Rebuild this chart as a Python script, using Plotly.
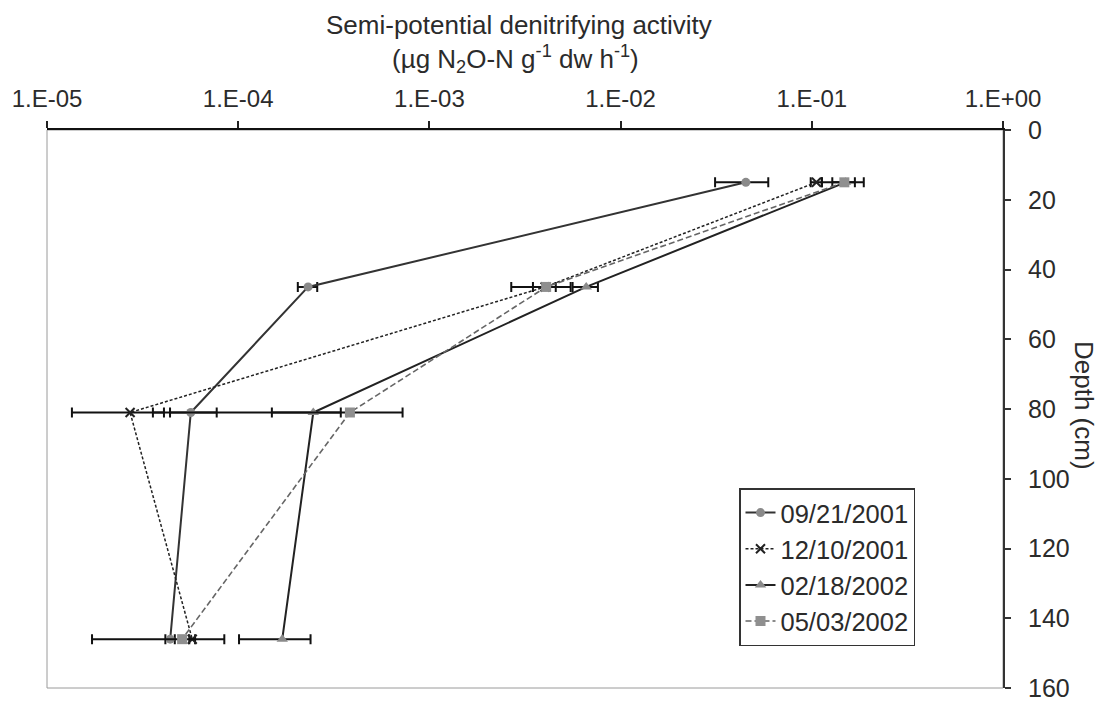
import plotly.graph_objects as go

# Sampling depths (cm)
depth = [15, 45, 81, 146]

# Semi-potential denitrifying activity (µg N2O-N g-1 dw h-1) and standard errors
act_0921 = [0.0452, 2.32e-4, 5.65e-5, 4.41e-5]
err_0921 = [0.014, 0.27e-4, 2.07e-5, 0.25e-5]

act_1210 = [0.1057, 4.03e-3, 2.72e-5, 5.75e-5]
err_1210 = [0.007, 0.55e-3, 1.37e-5, 0.2e-5]

act_0218 = [0.150, 6.61e-3, 2.47e-4, 1.70e-4]
err_0218 = [0.037, 1.0e-3, 0.97e-4, 0.69e-4]

act_0503 = [0.148, 4.08e-3, 3.84e-4, 5.09e-5]
err_0503 = [0.02, 1.4e-3, 3.4e-4, 3.37e-5]

dates = ["09/21/2001", "12/10/2001", "02/18/2002", "05/03/2002"]
x_ticks = [1e-5, 1e-4, 1e-3, 1e-2, 1e-1, 1]
x_ticklabels = ["1.E-05", "1.E-04", "1.E-03", "1.E-02", "1.E-01", "1.E+00"]
y_ticks = [0, 20, 40, 60, 80, 100, 120, 140, 160]

FONT = "Liberation Sans, Arial, sans-serif"
TXT = "#2b2b2b"

series = [
    (dates[0], act_0921, err_0921, dict(color="#333333", width=2, dash="solid"),
     dict(symbol="circle", size=9, color="#8a8a8a")),
    (dates[1], act_1210, err_1210, dict(color="#222222", width=1.5, dash="3px,2px"),
     dict(symbol="x-thin", size=9, color="#222222", line=dict(width=2, color="#222222"))),
    (dates[2], act_0218, err_0218, dict(color="#222222", width=2, dash="solid"),
     dict(symbol="triangle-up", size=10, color="#8a8a8a")),
    (dates[3], act_0503, err_0503, dict(color="#666666", width=1.6, dash="6px,3px"),
     dict(symbol="square", size=10, color="#8f8f8f")),
]

fig = go.Figure()
for i, (name, vals, errs, line, marker) in enumerate(series):
    fig.add_trace(go.Scatter(
        x=vals, y=depth, name=name, mode="lines+markers",
        line=line, marker=marker, legendgroup=f"g{i}",
        error_x=dict(type="data", array=errs, symmetric=True,
                     color="#111111", thickness=2, width=5),
    ))

L, R, T, B = 47, 1003, 130, 688
W, H = 1110, 702

fig.update_layout(
    width=W, height=H,
    margin=dict(l=L, r=W - R, t=T, b=H - B, pad=0, autoexpand=False),
    paper_bgcolor="white", plot_bgcolor="white",
    font=dict(family=FONT, size=24, color=TXT),
    showlegend=True,
    legend=dict(
        x=(739 - L) / (R - L), y=(B - 488) / (B - T), xanchor="left", yanchor="top",
        bgcolor="white", bordercolor="#333333", borderwidth=1.5,
        font=dict(family=FONT, size=25.5, color=TXT),
        tracegroupgap=0,
    ),
    xaxis=dict(
        type="log", range=[-5, 0], side="top", automargin=False,
        tickvals=x_ticks, ticktext=x_ticklabels,
        ticks="outside", ticklen=7, tickwidth=1.5, tickcolor="#222222",
        showline=True, linecolor="#111111", linewidth=2,
        showgrid=False, zeroline=False, ticklabelstandoff=4,
        tickfont=dict(family=FONT, size=24, color=TXT),
    ),
    yaxis=dict(
        range=[160, 0], side="right", tickvals=y_ticks, automargin=False,
        ticks="outside", ticklen=6, tickwidth=1.5, tickcolor="#333333",
        showline=True, linecolor="#333333", linewidth=2,
        showgrid=False, zeroline=False, ticklabelstandoff=12,
        tickfont=dict(family=FONT, size=25, color=TXT),
    ),
)

# Light frame around the plot area
fig.add_shape(type="rect", xref="paper", yref="paper", x0=0, y0=0, x1=1, y1=1,
              line=dict(color="#9a9a9a", width=1), layer="below")

# Axis titles
fig.add_annotation(xref="paper", yref="paper", x=(519 - L) / (R - L), y=(B - 25) / (B - T),
                   text="Semi-potential denitrifying activity", showarrow=False,
                   xanchor="center", yanchor="middle",
                   font=dict(family=FONT, size=26, color=TXT))
fig.add_annotation(xref="paper", yref="paper", x=(515 - L) / (R - L), y=(B - 59) / (B - T),
                   text="(µg N<sub>2</sub>O-N g<sup>-1</sup> dw h<sup>-1</sup>)",
                   showarrow=False, xanchor="center", yanchor="middle",
                   font=dict(family=FONT, size=26, color=TXT))
fig.add_annotation(xref="paper", yref="paper", x=(1084 - L) / (R - L),
                   y=(B - 405) / (B - T), text="Depth (cm)", textangle=90,
                   showarrow=False, xanchor="center", yanchor="middle",
                   font=dict(family=FONT, size=26, color=TXT))

fig.write_html("out.html")
